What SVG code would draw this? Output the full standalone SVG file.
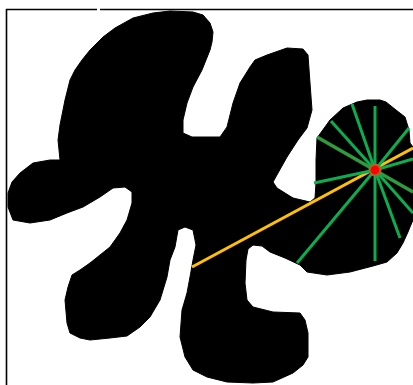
<svg xmlns="http://www.w3.org/2000/svg" width="413" height="385" viewBox="0 0 413 385">
<style>
.frame{stroke:#000;stroke-width:1.6;fill:none}
.blob{fill:#000;stroke:#000;stroke-width:1;stroke-linejoin:round}
.ray{stroke:#0aad4f;stroke-width:3;stroke-linecap:butt}
.ray2{stroke:#2e9b3c;stroke-width:3.5}
.beam{stroke:#ffc000;stroke-width:3}
</style>
<rect width="413" height="385" fill="#fff"/>
<g id="frame">
<line class="frame" x1="6" y1="9.5" x2="97" y2="9.5"/>
<line class="frame" x1="100" y1="9.5" x2="413" y2="9.5"/>
<line class="frame" x1="6.5" y1="9" x2="6.5" y2="385"/>
</g>
<g id="shape">
<path class="blob" d="M115,28 L133,18 L153,13 L170,11 L193,12 L203,15 L210,23 L213,32 L212,42 L210,50 L202,70 L193,87 L187,103 L183,120 L183,133 L192,137 L220,137 L227,127 L230,115 L233,103 L240,83 L250,67 L255,60 L267,55 L287,48 L303,49 L308,55 L310,83 L312,110 L307,128 L298,140 L287,157 L278,173 L273,182 L277,188 L293,198 L310,202 L315,198 L316,183 L316,160 L317,138 L330,120 L343,108 L357,102 L367,100 L380,100 L386,102 L396,110 L405,117 L409,130 L410,143 L413,147 L413,220 L410,227 L408,232 L403,243 L397,253 L387,262 L373,266 L350,272 L327,275 L307,272 L300,265 L285,258 L270,252 L262,246 L253,245 L248,249 L246,260 L245,283 L247,300 L253,307 L273,312 L300,313 L305,320 L308,333 L308,357 L303,365 L293,373 L273,382 L253,383 L227,382 L207,377 L193,370 L185,357 L180,337 L182,310 L187,293 L190,277 L193,260 L196,245 L193,230 L185,227 L178,230 L175,247 L170,260 L167,277 L160,300 L150,317 L140,327 L127,336 L110,338 L90,340 L80,338 L70,333 L67,323 L65,300 L68,287 L72,275 L80,270 L90,263 L100,255 L110,247 L120,233 L127,220 L132,203 L132,192 L125,187 L113,188 L100,197 L83,207 L67,213 L50,220 L30,223 L13,220 L8,207 L8,193 L12,182 L20,173 L33,163 L50,160 L60,160 L58,140 L60,125 L63,110 L65,100 L70,80 L75,70 L82,60 L90,50 L103,37 Z"/>
</g>
<g id="connectors">
<line class="beam" x1="192" y1="267" x2="413" y2="148"/>
<line class="ray2" x1="317" y1="137" x2="413" y2="192"/>
<line class="ray" x1="375" y1="170" x2="352" y2="104"/>
<line class="ray" x1="375" y1="170" x2="375" y2="106"/>
<line class="ray" x1="375" y1="170" x2="331" y2="121"/>
<line class="ray" x1="375" y1="170" x2="314" y2="183"/>
<line class="ray" x1="375" y1="170" x2="297" y2="263"/>
<line class="ray" x1="375" y1="170" x2="375" y2="261"/>
<line class="ray" x1="375" y1="170" x2="400" y2="238"/>
<line class="ray" x1="375" y1="170" x2="409" y2="128"/>
<line class="ray" x1="375" y1="170" x2="413" y2="159"/>
<line class="ray" x1="375" y1="170" x2="413" y2="213"/>
</g>
<g id="point">
<circle cx="375" cy="170" r="6.5" fill="#a8642a"/>
<circle cx="375" cy="170" r="4.3" fill="#ff0000"/>
</g>
</svg>
